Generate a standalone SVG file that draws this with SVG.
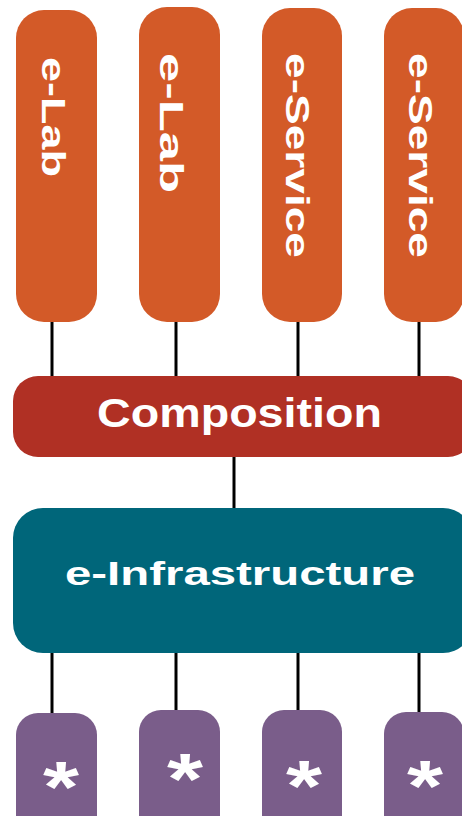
<svg xmlns="http://www.w3.org/2000/svg" width="462" height="816" viewBox="0 0 462 816">
  <style>
    .lbl { font-family: "Liberation Sans", Arial, sans-serif; font-weight: bold; fill: #ffffff; }
    .star { font-family: "Liberation Sans", Arial, sans-serif; font-weight: bold; fill: #ffffff; font-size: 72px; text-anchor: middle; }
    .app { fill: #d35a28; }
    .comp { fill: #b03024; }
    .infra { fill: #00667a; }
    .res { fill: #7a5d8a; }
    .wire { stroke: #000000; stroke-width: 3; fill: none; }
  </style>
  <rect width="462" height="816" fill="#ffffff"/>

  <!-- connectors -->
  <g id="connectors" class="wire">
    <line x1="52" y1="318" x2="52" y2="380"/>
    <line x1="176" y1="318" x2="176" y2="380"/>
    <line x1="298" y1="318" x2="298" y2="380"/>
    <line x1="419" y1="318" x2="419" y2="380"/>
    <line x1="234" y1="453" x2="234" y2="512"/>
    <line x1="52" y1="649" x2="52" y2="717"/>
    <line x1="176" y1="649" x2="176" y2="714"/>
    <line x1="298" y1="649" x2="298" y2="714"/>
    <line x1="419" y1="649" x2="419" y2="716"/>
  </g>

  <!-- application layer -->
  <g id="elab1">
    <rect class="app" x="16" y="10" width="81" height="312" rx="28"/>
    <text class="lbl" font-size="34" textLength="120" lengthAdjust="spacingAndGlyphs" transform="translate(42,57) rotate(90)">e-Lab</text>
  </g>
  <g id="elab2">
    <rect class="app" x="139" y="7" width="81" height="315" rx="28"/>
    <text class="lbl" font-size="34" textLength="140" lengthAdjust="spacingAndGlyphs" transform="translate(160,53) rotate(90)">e-Lab</text>
  </g>
  <g id="eservice1">
    <rect class="app" x="262" y="8" width="80" height="314" rx="28"/>
    <text class="lbl" font-size="34" textLength="205" lengthAdjust="spacingAndGlyphs" transform="translate(286,53) rotate(90)">e-Service</text>
  </g>
  <g id="eservice2">
    <rect class="app" x="384" y="8" width="80" height="314" rx="28"/>
    <text class="lbl" font-size="34" textLength="205" lengthAdjust="spacingAndGlyphs" transform="translate(409,53) rotate(90)">e-Service</text>
  </g>

  <!-- composition layer -->
  <g id="composition">
    <rect class="comp" x="13" y="376" width="460" height="81" rx="25"/>
    <text class="lbl" x="97" y="427" font-size="41" textLength="285" lengthAdjust="spacingAndGlyphs">Composition</text>
  </g>

  <!-- infrastructure layer -->
  <g id="einfrastructure">
    <rect class="infra" x="13" y="508" width="460" height="145" rx="30"/>
    <text class="lbl" x="65" y="585" font-size="34" textLength="350" lengthAdjust="spacingAndGlyphs">e-Infrastructure</text>
  </g>

  <!-- resources -->
  <g id="res1">
    <rect class="res" x="16" y="713" width="81" height="130" rx="22"/>
    <text class="star" x="61" y="812" textLength="36" lengthAdjust="spacingAndGlyphs">*</text>
  </g>
  <g id="res2">
    <rect class="res" x="139" y="710" width="81" height="130" rx="22"/>
    <text class="star" x="185" y="804" textLength="36" lengthAdjust="spacingAndGlyphs">*</text>
  </g>
  <g id="res3">
    <rect class="res" x="262" y="710" width="80" height="130" rx="22"/>
    <text class="star" x="304" y="811" textLength="36" lengthAdjust="spacingAndGlyphs">*</text>
  </g>
  <g id="res4">
    <rect class="res" x="384" y="712" width="80" height="130" rx="22"/>
    <text class="star" x="425" y="811" textLength="36" lengthAdjust="spacingAndGlyphs">*</text>
  </g>
</svg>
